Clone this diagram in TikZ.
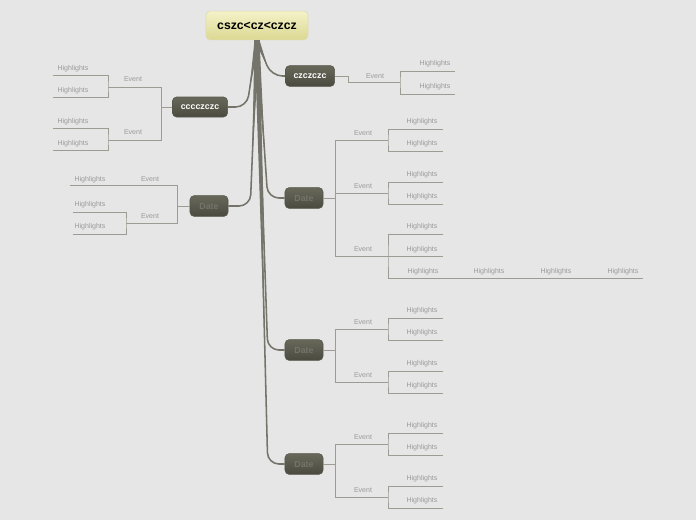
\documentclass[tikz,border=0pt]{standalone}
\usepackage{fontspec}
\setmainfont{Liberation Sans}
\usetikzlibrary{calc}
\definecolor{bg}{HTML}{E6E6E6}
\definecolor{limbc}{HTML}{74746A}
\definecolor{twigc}{HTML}{9C9C92}
\definecolor{lblc}{HTML}{9A9A9A}
\definecolor{boxtop}{HTML}{68685A}
\definecolor{boxbot}{HTML}{4A4A3F}
\definecolor{boxedge}{HTML}{55554A}
\definecolor{datec}{HTML}{74746A}
\definecolor{roottop}{HTML}{F4F2C8}
\definecolor{rootbot}{HTML}{DCD892}

\begin{document}
\begin{tikzpicture}[x=0.025cm, y=-0.025cm,
  root/.style={draw=rootbot!90!black!60, rounded corners=3pt, top color=roottop, bottom color=rootbot, inner sep=0, minimum width=2.55cm, minimum height=0.72cm, font=\bfseries\fontsize{8.7}{10}\selectfont},
  topic/.style={draw=boxedge, rounded corners=3pt, top color=boxtop, bottom color=boxbot, inner sep=0, minimum width=0.95cm, minimum height=0.52cm, font=\bfseries\fontsize{6.3}{7}\selectfont},
  limb/.style={draw=limbc, line width=1.1pt, rounded corners=8pt},
  taper/.style={fill=limbc},
  twig/.style={draw=twigc, line width=0.55pt},
  lbl/.style={text=lblc, inner sep=0, font=\fontsize{5}{6}\selectfont}
]
\path[fill=bg] (0,0) rectangle (696,520);

% central topic and main topics
\node[root] (root) at (257,25.5) {cszc<cz<czcz};
\node[topic, text=white, minimum width=1.23cm] (zc) at (310,76) {czczczc};
\node[topic, text=white, minimum width=1.38cm, minimum height=0.5cm] (cc) at (200,107) {cccczczc};
\node[topic, text=datec] (dl) at (209,206) {Date};
\node[topic, text=datec] (d1) at (304,198) {Date};
\node[topic, text=datec] (d2) at (304,350) {Date};
\node[topic, text=datec] (d3) at (304,464) {Date};

% tapered limbs from the central topic
\foreach \t/\dx in {zc/-14, d1/-17, d2/-17, d3/-17} {
  \coordinate (b\t) at ($(\t.west)+(\dx,0)$);
  \fill[taper] ($(root.south)+(-2.5,0)$) -- ($(root.south)+(2.5,0)$) -- ($(root.south)!0.75!(b\t)$) -- cycle;
  \draw[limb] (root.south) -- (b\t) -- (\t.west);
}
\foreach \t/\dx in {cc/19, dl/22} {
  \coordinate (b\t) at ($(\t.east)+(\dx,0)$);
  \fill[taper] ($(root.south)+(-2.5,0)$) -- ($(root.south)+(2.5,0)$) -- ($(root.south)!0.75!(b\t)$) -- cycle;
  \draw[limb] (root.south) -- (b\t) -- (\t.east);
}

% czczczc
\coordinate (zcj) at ($(zc.east)+(13,0)$);
\coordinate (zce) at (400,82);
\coordinate (zch1) at (455,71);
\coordinate (zch2) at (455,94);
\draw[twig] (zc.east) -- (zcj) |- (zce);
\draw[twig] (zch1) -| (zce) |- (zch2);
\node[lbl] (zcev) at (375,76) {Event};
\node[lbl] (zchl1) at (435,64) {Highlights};
\node[lbl] (zchl2) at (435,87) {Highlights};

% cccczczc
\coordinate (ccj) at ($(cc.west)+(-11,0)$);
\draw[twig] (cc.west) -- (ccj);
\foreach \y in {87,140} {
  \coordinate (cce\y) at (108,\y);
  \coordinate (cca\y) at (53,\y-12);
  \coordinate (ccb\y) at (53,\y+10);
  \draw[twig] (ccj) |- (cce\y);
  \draw[twig] (cca\y) -| (cce\y) |- (ccb\y);
  \node[lbl] (ccev\y) at (133,\y-8) {Event};
  \node[lbl] (cchla\y) at (73,\y-18.5) {Highlights};
  \node[lbl] (cchlb\y) at (73,\y+3.5) {Highlights};
}

% left Date
\coordinate (dlj) at ($(dl.west)+(-12,0)$);
\coordinate (dlh1) at (70,185);
\coordinate (dle2) at (126,223);
\coordinate (dlh2) at (73,212);
\coordinate (dlh3) at (73,234);
\draw[twig] (dl.west) -- (dlj);
\draw[twig] (dlh1) -| (dlj) |- (dle2);
\draw[twig] (dlh2) -| (dle2) |- (dlh3);
\node[lbl] (dlev1) at (150,179) {Event};
\node[lbl] (dlhl1) at (90,179.5) {Highlights};
\node[lbl] (dlev2) at (150,216.5) {Event};
\node[lbl] (dlhl2) at (90,205) {Highlights};
\node[lbl] (dlhl3) at (90,227) {Highlights};

% right Dates
\foreach \d in {d1,d2,d3} {
  \coordinate (\d j) at ($(\d.east)+(12,0)$);
  \draw[twig] (\d.east) -- (\d j);
}
\foreach \d/\y in {d1/140, d1/193, d1/256, d2/329, d2/382, d3/444, d3/497} {
  \coordinate (e\y) at (388,\y);
  \draw[twig] (\d j) |- (e\y);
  \node[lbl] (ev\y) at (363,\y-7) {Event};
}
\foreach \y in {140,193,329,382,444,497} {
  \coordinate (ha\y) at (443,\y-11);
  \coordinate (hb\y) at (443,\y+11);
  \draw[twig] (ha\y) -| (e\y) |- (hb\y);
  \node[lbl] (hla\y) at (422,\y-18) {Highlights};
  \node[lbl] (hlb\y) at (422,\y+4) {Highlights};
}
\coordinate (h234) at (443,234);
\coordinate (h256) at (443,256);
\coordinate (hc) at (643,278);
\draw[twig] (h234) -| (e256) |- (hc);
\draw[twig] (e256) -- (h256);
\node[lbl] (hl234) at (422,227) {Highlights};
\node[lbl] (hl256) at (422,249.5) {Highlights};
\foreach \x/\n in {423/1, 489/2, 556/3, 623/4}
  \node[lbl] (hlc\n) at (\x,272) {Highlights};
\end{tikzpicture}
\end{document}
